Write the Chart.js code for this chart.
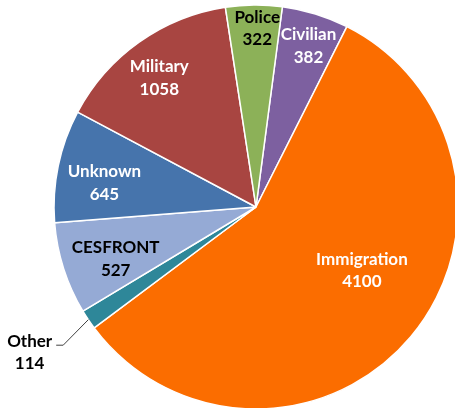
<!DOCTYPE html>
<html>
<head>
<meta charset="utf-8">
<script src="https://cdn.jsdelivr.net/npm/chart.js@4"></script>
<style>
  html, body { margin: 0; padding: 0; background: #fff; overflow: hidden; }
</style>
</head>
<body>
<canvas id="pie-chart" width="455" height="408"></canvas>
<script>
// categories, clockwise from the top
const categories = ['Civilian', 'Immigration', 'Other', 'CESFRONT', 'Unknown', 'Military', 'Police'];
const counts = [382, 4100, 114, 527, 645, 1058, 322];

const sliceColors = ['#7d60a0', '#fb6d00', '#2e8799', '#95aad5', '#4674ac', '#a84541', '#8cb158'];
const labelColors = ['#fff', '#fff', '#000', '#000', '#fff', '#fff', '#000'];
// where the label sits: fraction of the radius and a small turn (deg) off the slice middle
const labelRadius = [0.84, 0.61, 1.33, 0.74, 0.76, 0.80, 0.886];
const labelTurn = [0.9, -9.2, 1.3, -2.4, -2.6, -1.4, 1.0];

const FONT = 'bold 17px Lato';

const sliceLabels = {
    id: 'sliceLabels',
    afterDatasetsDraw(chart) {
        const ctx = chart.ctx;
        const arcs = chart.getDatasetMeta(0).data;
        ctx.save();
        ctx.font = FONT;
        ctx.textAlign = 'center';
        ctx.textBaseline = 'alphabetic';
        arcs.forEach((arc, i) => {
            const { x, y, startAngle, endAngle, outerRadius } = arc.getProps(['x', 'y', 'startAngle', 'endAngle', 'outerRadius']);
            const mid = (startAngle + endAngle) / 2;
            const a = mid + labelTurn[i] * Math.PI / 180;
            const cx = x + Math.cos(a) * outerRadius * labelRadius[i];
            const cy = y + Math.sin(a) * outerRadius * labelRadius[i];
            const lines = [categories[i], String(counts[i])];
            ctx.fillStyle = labelColors[i];
            ctx.fillText(lines[0], cx, cy - 11.25 + 6.1);
            ctx.fillText(lines[1], cx, cy + 11.25 + 6.1);

            if (labelRadius[i] > 1) {
                // leader line for a label outside the pie
                const w = ctx.measureText(lines[0]).width;
                const lx = cx + w / 2 + 4;
                const ly = cy - 11.25 + 4.7;
                ctx.strokeStyle = '#404040';
                ctx.lineWidth = 1;
                ctx.beginPath();
                ctx.moveTo(lx, ly);
                ctx.lineTo(lx + 7, ly);
                ctx.lineTo(x + Math.cos(mid) * outerRadius, y + Math.sin(mid) * outerRadius);
                ctx.stroke();
            }
        });
        ctx.restore();
    }
};

new Chart(document.getElementById('pie-chart'), {
    type: 'pie',
    data: {
        labels: categories,
        datasets: [{
            data: counts,
            backgroundColor: sliceColors,
            borderColor: '#ffffff',
            borderWidth: 1.5,
            hoverOffset: 0
        }]
    },
    options: {
        responsive: false,
        animation: false,
        rotation: 7.5,
        radius: 202,
        layout: { padding: { left: 57, right: 0, top: 6, bottom: 0 } },
        plugins: {
            legend: { display: false },
            tooltip: { enabled: false }
        }
    },
    plugins: [sliceLabels]
});
</script>
</body>
</html>
